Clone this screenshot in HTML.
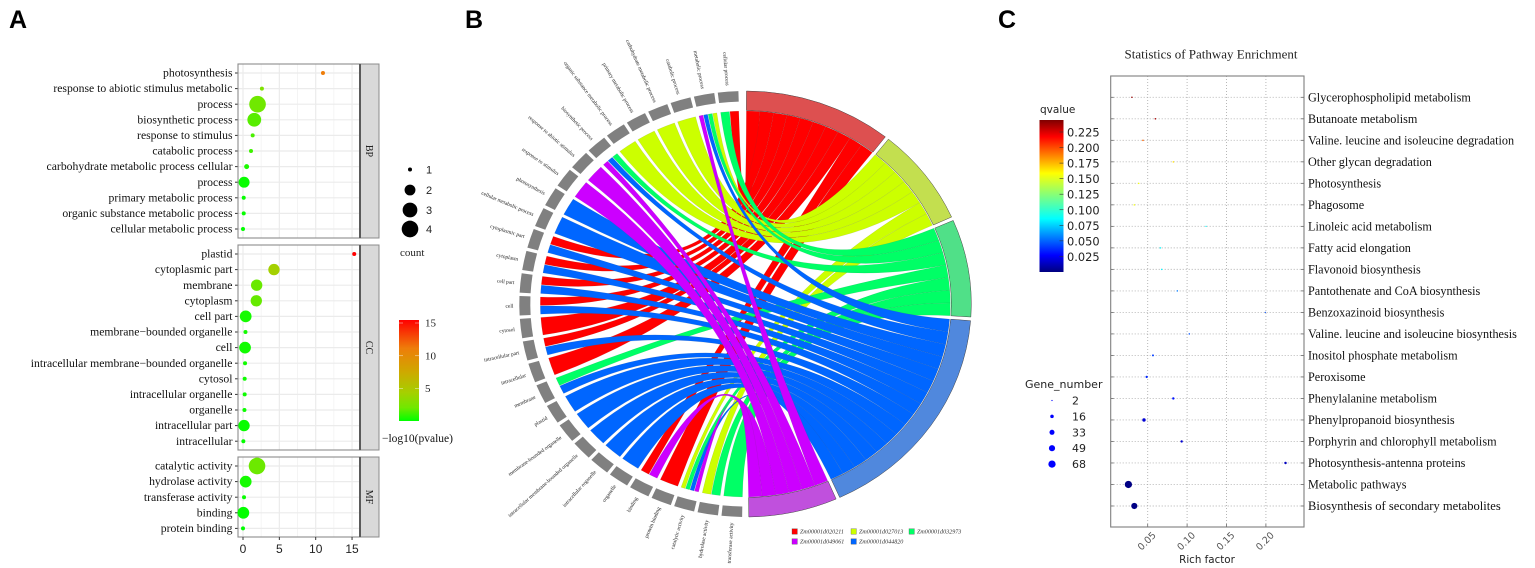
<!DOCTYPE html>
<html lang="en">
<head>
<meta charset="utf-8">
<title>Enrichment figure</title>
<style>
html,body{margin:0;padding:0;background:#fff;width:1535px;height:568px;overflow:hidden}
svg{display:block;filter:blur(.35px)}
.serif{font-family:"Liberation Serif",serif}
.sans{font-family:"Liberation Sans",sans-serif}
.dejavu{font-family:"DejaVu Sans",sans-serif}
</style>
</head>
<body>
<svg id="fig" width="1535" height="568" viewBox="0 0 1535 568" xmlns="http://www.w3.org/2000/svg">
  <defs>
    <linearGradient id="gradA" x1="0" y1="1" x2="0" y2="0">
      <stop offset="0" stop-color="#00ff00"/><stop offset=".13" stop-color="#70e800"/>
      <stop offset=".28" stop-color="#a5d000"/><stop offset=".49" stop-color="#cfa800"/>
      <stop offset=".72" stop-color="#ee7d0a"/><stop offset="1" stop-color="#ff0000"/>
    </linearGradient>
    <linearGradient id="gradC" x1="0" y1="1" x2="0" y2="0">
      <stop offset="0" stop-color="#00007f"/><stop offset=".11" stop-color="#0000ff"/>
      <stop offset=".35" stop-color="#00ffff"/><stop offset=".5" stop-color="#7fff7f"/>
      <stop offset=".65" stop-color="#ffff00"/><stop offset=".89" stop-color="#ff0000"/>
      <stop offset="1" stop-color="#7f0000"/>
    </linearGradient>
  </defs>
  <text x="9" y="28" class="sans" font-size="25" font-weight="bold">A</text>
  <text x="465" y="28" class="sans" font-size="25" font-weight="bold">B</text>
  <text x="998" y="28" class="sans" font-size="25" font-weight="bold">C</text>
  <g id="panelA"></g>
  <g id="panelB"></g>
  <g id="panelC"></g>
</svg>
<script>
/* ---------- Panel A data ---------- */
const bpTerms = ["photosynthesis","response to abiotic stimulus metabolic","process","biosynthetic process","response to stimulus","catabolic process","carbohydrate metabolic process cellular","process","primary metabolic process","organic substance metabolic process","cellular metabolic process"];
const bpValues = [11,2.6,2.0,1.55,1.33,1.1,0.5,0.15,0.1,0.1,0];
const bpCounts = [1,1,4,3,1,1,1.1,2.2,1,1,1];
const ccTerms = ["plastid","cytoplasmic part","membrane","cytoplasm","cell part","membrane\u2212bounded organelle","cell","intracellular membrane\u2212bounded organelle","cytosol","intracellular organelle","organelle","intracellular part","intracellular"];
const ccValues = [15.3,4.26,1.88,1.83,0.37,0.34,0.28,0.28,0.23,0.23,0.2,0.14,0.05];
const ccCounts = [1,2.3,2.3,2.3,2.4,1,2.4,1,1,1,1,2.3,1];
const mfTerms = ["catalytic activity","hydrolase activity","transferase activity","binding","protein binding"];
const mfValues = [1.93,0.37,0.14,0.05,0];
const mfCounts = [4,2.4,1,2.4,1];
const facetNames = ["BP","CC","MF"];
const xTicksA = [0,5,10,15];
const xMinorA = [2.5,7.5,12.5];
const sizeLegendA = [1,2,3,4];
const colorTicksA = [15,10,5];

/* ---------- Panel B data ---------- */
const geneNames = ["Zm00001d020211","Zm00001d027013","Zm00001d032973","Zm00001d044820","Zm00001d049061"];
const geneColors = ["#ff0000","#ccff00","#00ff66","#0066ff","#cc00ff"];
const sectorColors = ["#dd5050","#c3df4f","#50e088","#5088dd","#c050dd"];
const legendOrder = [0,1,2,4,3];
const chordTerms = ["transferase activity","hydrolase activity","catalytic activity","protein binding","binding","organelle","intracellular organelle","intracellular membrane-bounded organelle","membrane-bounded organelle","plastid","membrane","intracellular","intracellular part","cytosol","cell","cell part","cytoplasm","cytoplasmic part","cellular metabolic process","photosynthesis","response to stimulus","response to abiotic stimulus","biosynthetic process","organic substance metabolic process","primary metabolic process","carbohydrate metabolic process","catabolic process","metabolic process","cellular process"];
/* genes linked to each term: 0 red, 1 yellow, 2 green, 3 blue, 4 purple */
const chordLinks = [[2],[1,2],[1,2,3,4],[0],[0,4],[3],[3],[3],[3],[3],[2,3],[0],[0,3],[0],[0,3],[0,3],[0,3],[0,3],[3],[3],[4],[4],[2,3,4],[1],[1],[1],[1],[1,2,3,4],[0,2]];

/* ---------- Panel C data ---------- */
const pathways = ["Glycerophospholipid metabolism","Butanoate metabolism","Valine. leucine and isoleucine degradation","Other glycan degradation","Photosynthesis","Phagosome","Linoleic acid metabolism","Fatty acid elongation","Flavonoid biosynthesis","Pantothenate and CoA biosynthesis","Benzoxazinoid biosynthesis","Valine. leucine and isoleucine biosynthesis","Inositol phosphate metabolism","Peroxisome","Phenylalanine metabolism","Phenylpropanoid biosynthesis","Porphyrin and chlorophyll metabolism","Photosynthesis-antenna proteins","Metabolic pathways","Biosynthesis of secondary metabolites"];
const richFactor = [0.03,0.0597,0.044,0.0825,0.0386,0.033,0.124,0.066,0.0678,0.0876,0.1993,0.1028,0.0567,0.0487,0.0825,0.0453,0.0931,0.2249,0.0255,0.033];
const qValues = [0.24,0.235,0.19,0.16,0.15,0.15,0.09,0.09,0.09,0.06,0.05,0.05,0.045,0.04,0.035,0.02,0.02,0.015,0.001,0.001];
const geneNumbers = [3,3,3,3,3,3,2,3,3,3,2,3,5,7,7,15,7,8,68,49];
const richTicks = [0.05,0.10,0.15,0.20];
const qTicks = [0.225,0.2,0.175,0.15,0.125,0.1,0.075,0.05,0.025];
const geneLegend = [2,16,33,49,68];

const NS = "http://www.w3.org/2000/svg";
function add(parent, tag, attrs, txt) {
  const el = document.createElementNS(NS, tag);
  for (const k in attrs) el.setAttribute(k, attrs[k]);
  if (txt !== undefined) el.textContent = txt;
  parent.appendChild(el);
  return el;
}

/* ---------- Panel A ---------- */
(function () {
  const g = document.getElementById("panelA");
  const xA = v => 243 + v * 7.27;
  const rA = c => Math.sqrt(4 + 21.7 * (c - 1));
  const stops = [[0,[0,255,0]],[2,[112,232,0]],[4.3,[165,208,0]],[7.5,[207,168,0]],[11,[238,125,10]],[15.3,[255,0,0]]];
  function colA(v) {
    for (let i = 1; i < stops.length; i++) {
      if (v <= stops[i][0]) {
        const a = stops[i-1], b = stops[i], t = (v - a[0]) / (b[0] - a[0]);
        return "rgb(" + a[1].map((c, j) => Math.round(c + (b[1][j] - c) * t)).join(",") + ")";
      }
    }
    return "rgb(255,0,0)";
  }
  const facets = [
    {top:64, bottom:238, terms:bpTerms, values:bpValues, counts:bpCounts},
    {top:245, bottom:450, terms:ccTerms, values:ccValues, counts:ccCounts},
    {top:457, bottom:537, terms:mfTerms, values:mfValues, counts:mfCounts}
  ];
  facets.forEach((f, fi) => {
    const bg = add(g, "rect", {x:238, y:f.top, width:122, height:f.bottom - f.top, fill:"#fff"});
    
    
    xMinorA.forEach(v => {
      const l = add(g, "line", {x1:xA(v), x2:xA(v), y1:f.top, y2:f.bottom, stroke:"#f2f2f2", "stroke-width":.8});
      
      
    });
    xTicksA.forEach(v => {
      const l = add(g, "line", {x1:xA(v), x2:xA(v), y1:f.top, y2:f.bottom, stroke:"#ebebeb", "stroke-width":1.2});
      
      
    });
    f.terms.forEach((t, i) => {
      const y = f.top + 9 + i * 15.6;
      const gl = add(g, "line", {x1:238, x2:360, y1:y, y2:y, stroke:"#ebebeb", "stroke-width":1.2});
      
      
      const tk = add(g, "line", {x1:235, x2:238, y1:y, y2:y, stroke:"#333", "stroke-width":1});
      
      
      const lb = add(g, "text", {x:232.5, y:y + 3.6, "text-anchor":"end", "font-size":11.7, "class":"serif", fill:"#111"}, t);
      
      
    });
    const fr = add(g, "rect", {x:238, y:f.top, width:122, height:f.bottom - f.top, fill:"none", stroke:"#8c8c8c", "stroke-width":1.1});
    
    
    const strip = add(g, "rect", {x:360, y:f.top, width:19, height:f.bottom - f.top, fill:"#d9d9d9", stroke:"#8c8c8c", "stroke-width":1});
    
    
    const sep = add(g, "line", {x1:360, x2:360, y1:f.top, y2:f.bottom, stroke:"#5a5a5a", "stroke-width":2});
    
    
    const mid = (f.top + f.bottom) / 2;
    const st = add(g, "text", {x:369.5, y:mid, transform:"rotate(90 369.5 " + mid + ")", "text-anchor":"middle", dy:"3.5", "font-size":10, "class":"serif", fill:"#222"}, facetNames[fi]);
    
    
    f.values.forEach((v, i) => {
      const c = add(g, "circle", {cx:xA(v), cy:f.top + 9 + i * 15.6, r:rA(f.counts[i]), fill:colA(v)});
      
      
    });
  });
  xTicksA.forEach(v => {
    const tk = add(g, "line", {x1:xA(v), x2:xA(v), y1:537, y2:540, stroke:"#333", "stroke-width":1});
    
    
    const lb = add(g, "text", {x:xA(v), y:553, "text-anchor":"middle", "font-size":12, "class":"sans", fill:"#222"}, v);
    
    
  });
  const legendY = [169.5,190,210,229];
  sizeLegendA.forEach((c, i) => {
    const d = add(g, "circle", {cx:410, cy:legendY[i], r:rA(c) * (c === 2 || c === 3 ? 1.07 : 1), fill:"#000"});
    
    
    const t = add(g, "text", {x:426, y:legendY[i] + 4, "font-size":11, "class":"sans", fill:"#222"}, c);
    
    
  });
  const ct = add(g, "text", {x:400, y:256, "font-size":11, "class":"serif", fill:"#222"}, "count");
  
  
  const bar = add(g, "rect", {x:399, y:320, width:20, height:101, fill:"url(#gradA)"});
  
  
  colorTicksA.forEach(v => {
    const y = 388.5 - (v - 5) * 6.55;
    const a = add(g, "line", {x1:399, x2:403, y1:y, y2:y, stroke:"#fff", "stroke-width":.6, "stroke-opacity":.7});
    
    
    const b = add(g, "line", {x1:415, x2:419, y1:y, y2:y, stroke:"#fff", "stroke-width":.6, "stroke-opacity":.7});
    
    
    const t = add(g, "text", {x:425, y:y + 3.5, "font-size":11, "class":"serif", fill:"#222"}, v);
    
    
  });
  const cb = add(g, "text", {x:382, y:442, "font-size":11.5, "class":"serif", fill:"#111"}, "\u2212log10(pvalue)");
  
  
})();

/* ---------- Panel B ---------- */
(function () {
  const g = document.getElementById("panelB");
  const cx = 745.3, cy = 304;
  const rad = d => d * Math.PI / 180;
  const pt = (th, rx, ry) => [cx + rx * Math.sin(rad(th)), cy - ry * Math.cos(rad(th))];
  const fmt = p => p[0].toFixed(2) + " " + p[1].toFixed(2);
  const RX = 205, RY = 193;
  const termStart = 180.8, termStep = 6.15, termWidth = 5.25;
  const linkW = 3.8, geneGap = 1;

  /* gene side: link slots, first slot goes to highest-index term */
  let th = 0.3;
  const geneStarts = [], geneEnds = [], geneSlots = [];
  geneNames.forEach((n, gi) => {
    geneStarts[gi] = th;
    const slots = {};
    let k = 0;
    for (let t = chordTerms.length - 1; t >= 0; t--) {
      if (chordLinks[t].includes(gi)) { slots[t] = th + k * linkW; k++; }
    }
    geneSlots[gi] = slots;
    th += k * linkW;
    geneEnds[gi] = th;
    th += geneGap;
  });

  /* ribbons, drawn in gene order so purple is on top */
  geneNames.forEach((n, gi) => {
    for (let t = chordTerms.length - 1; t >= 0; t--) {
      const links = chordLinks[t];
      if (!links.includes(gi)) continue;
      const order = links.slice().reverse();
      const w = termWidth / links.length;
      const pos = order.indexOf(gi);
      const base = termStart + t * termStep;
      const t0 = base + pos * w + (links.length > 1 ? .08 : 0);
      const t1 = base + (pos + 1) * w - (links.length > 1 ? .08 : 0);
      const g0 = geneSlots[gi][t], g1 = geneSlots[gi][t] + linkW;
      const d = "M" + fmt(pt(t0, RX, RY)) +
        " A" + RX + " " + RY + " 0 0 1 " + fmt(pt(t1, RX, RY)) +
        " Q" + cx + " " + cy + " " + fmt(pt(g0, RX, RY)) +
        " A" + RX + " " + RY + " 0 0 1 " + fmt(pt(g1, RX, RY)) +
        " Q" + cx + " " + cy + " " + fmt(pt(t0, RX, RY)) + " Z";
      const r = add(g, "path", {d:d, fill:geneColors[gi], stroke:"rgba(70,70,70,.3)", "stroke-width":.3});
      
      
    }
  });

  /* gene sectors */
  geneNames.forEach((n, gi) => {
    const a = geneStarts[gi], b = geneEnds[gi];
    const d = "M" + fmt(pt(a, 206, 193.5)) + " L" + fmt(pt(a, 226, 213)) +
      " A226 213 0 0 1 " + fmt(pt(b, 226, 213)) + " L" + fmt(pt(b, 206, 193.5)) +
      " A206 193.5 0 0 0 " + fmt(pt(a, 206, 193.5)) + " Z";
    const s = add(g, "path", {d:d, fill:sectorColors[gi], stroke:"#444", "stroke-width":.5});
    
    
  });

  /* term blocks and labels */
  chordTerms.forEach((name, t) => {
    const a = termStart + t * termStep, b = a + termWidth;
    const d = "M" + fmt(pt(a, 215, 202.5)) + " L" + fmt(pt(a, 226, 213)) +
      " A226 213 0 0 1 " + fmt(pt(b, 226, 213)) + " L" + fmt(pt(b, 215, 202.5)) +
      " A215 202.5 0 0 0 " + fmt(pt(a, 215, 202.5)) + " Z";
    const s = add(g, "path", {d:d, fill:"#808080"});
    
    
    const p = pt((a + b) / 2, 232, 219);
    const ang = Math.atan2(cy - p[1], cx - p[0]) * 180 / Math.PI;
    const l = add(g, "text", {x:p[0], y:p[1], dy:"1.8", "text-anchor":"end", "font-size":5.4, "class":"serif", fill:"#222", transform:"rotate(" + ang.toFixed(2) + " " + p[0].toFixed(2) + " " + p[1].toFixed(2) + ")"}, name);
    
    
  });

  /* legend */
  const legX = [792,851,909], legXb = [792,851], legY = [531.5,541.5];
  legendOrder.forEach((gi, i) => {
    const row = i < 3 ? 0 : 1;
    const x = i < 3 ? legX[i] : legXb[i - 3];
    const sw = add(g, "rect", {x:x, y:legY[row] - 2.7, width:5.4, height:5.4, fill:geneColors[gi], stroke:"#444", "stroke-width":.3});
    
    
    const t = add(g, "text", {x:x + 8, y:legY[row] + 2, "font-size":6.1, "font-style":"italic", "class":"serif", fill:"#333"}, geneNames[gi]);
    
    
  });
})();

/* ---------- Panel C ---------- */
(function () {
  const g = document.getElementById("panelC");
  const xC = v => 1147.7 + (v - 0.05) * 788;
  const yC = i => 97.3 + i * 21.51;
  const L = 1110.7, R = 1304, T = 76, B = 527;
  function jet(v) {
    const t = v / 0.2443;
    const cl = x => Math.round(255 * Math.max(0, Math.min(1, x)));
    return "rgb(" + cl(1.5 - Math.abs(4 * t - 3)) + "," + cl(1.5 - Math.abs(4 * t - 2)) + "," + cl(1.5 - Math.abs(4 * t - 1)) + ")";
  }
  const ttl = add(g, "text", {x:1211, y:58.5, "text-anchor":"middle", "font-size":13, "class":"serif", fill:"#222"}, "Statistics of Pathway Enrichment");
  
  
  richTicks.forEach(v => {
    const l = add(g, "line", {x1:xC(v), x2:xC(v), y1:T, y2:B, stroke:"#b0b0b0", "stroke-width":.9, "stroke-dasharray":"1 2"});
    
    
    const t1 = add(g, "line", {x1:xC(v), x2:xC(v), y1:B - 3, y2:B, stroke:"#666", "stroke-width":.8});
    
    
    const px = xC(v) - 1, py = 541;
    const lb = add(g, "text", {x:px, y:py + 3.3, "text-anchor":"middle", "font-size":9.5, "class":"dejavu", fill:"#555", transform:"rotate(-45 " + px + " " + py + ")"}, v.toFixed(2));
    
    
  });
  pathways.forEach((p, i) => {
    const y = yC(i);
    const l = add(g, "line", {x1:L, x2:R, y1:y, y2:y, stroke:"#b0b0b0", "stroke-width":.9, "stroke-dasharray":"1 2"});
    
    
    const a = add(g, "line", {x1:L, x2:L + 3, y1:y, y2:y, stroke:"#666", "stroke-width":.8});
    
    
    const b = add(g, "line", {x1:R - 3, x2:R, y1:y, y2:y, stroke:"#666", "stroke-width":.8});
    
    
    const t = add(g, "text", {x:1308, y:y + 4, "font-size":i === pathways.length - 1 ? 12.55 : 12.2, "class":"serif", fill:"#111"}, p);
    
    
  });
  const box = add(g, "rect", {x:L, y:T, width:R - L, height:B - T, fill:"none", stroke:"#7f7f7f", "stroke-width":1.1});
  
  
  richFactor.forEach((v, i) => {
    const c = add(g, "circle", {cx:xC(v), cy:yC(i), r:.44 * Math.sqrt(geneNumbers[i]), fill:jet(qValues[i])});
    
    
  });
  const xt = add(g, "text", {x:1207, y:563, "text-anchor":"middle", "font-size":10.3, "class":"dejavu", fill:"#222"}, "Rich factor");
  
  
  const qt = add(g, "text", {x:1040, y:113, "font-size":10.5, "class":"dejavu", fill:"#222"}, "qvalue");
  
  
  const bar = add(g, "rect", {x:1039.5, y:120, width:24, height:152, fill:"url(#gradC)"});
  
  
  qTicks.forEach(v => {
    const y = 132 + (0.225 - v) * 622;
    const tk = add(g, "line", {x1:1059.5, x2:1063.5, y1:y, y2:y, stroke:"#333", "stroke-width":.6});
    
    
    const t = add(g, "text", {x:1067, y:y + 4.5, "font-size":11.4, "class":"dejavu", fill:"#222"}, v.toFixed(3));
    
    
  });
  const gt = add(g, "text", {x:1025, y:388, "font-size":11, "class":"dejavu", fill:"#222"}, "Gene_number");
  
  
  geneLegend.forEach((n, i) => {
    const y = 400.5 + i * 15.9;
    const c = add(g, "circle", {cx:1052, cy:y, r:.44 * Math.sqrt(n), fill:"#0000ff"});
    
    
    const t = add(g, "text", {x:1072, y:y + 4, "font-size":11, "class":"dejavu", fill:"#222"}, n);
    
    
  });
})();
</script>
</body>
</html>
